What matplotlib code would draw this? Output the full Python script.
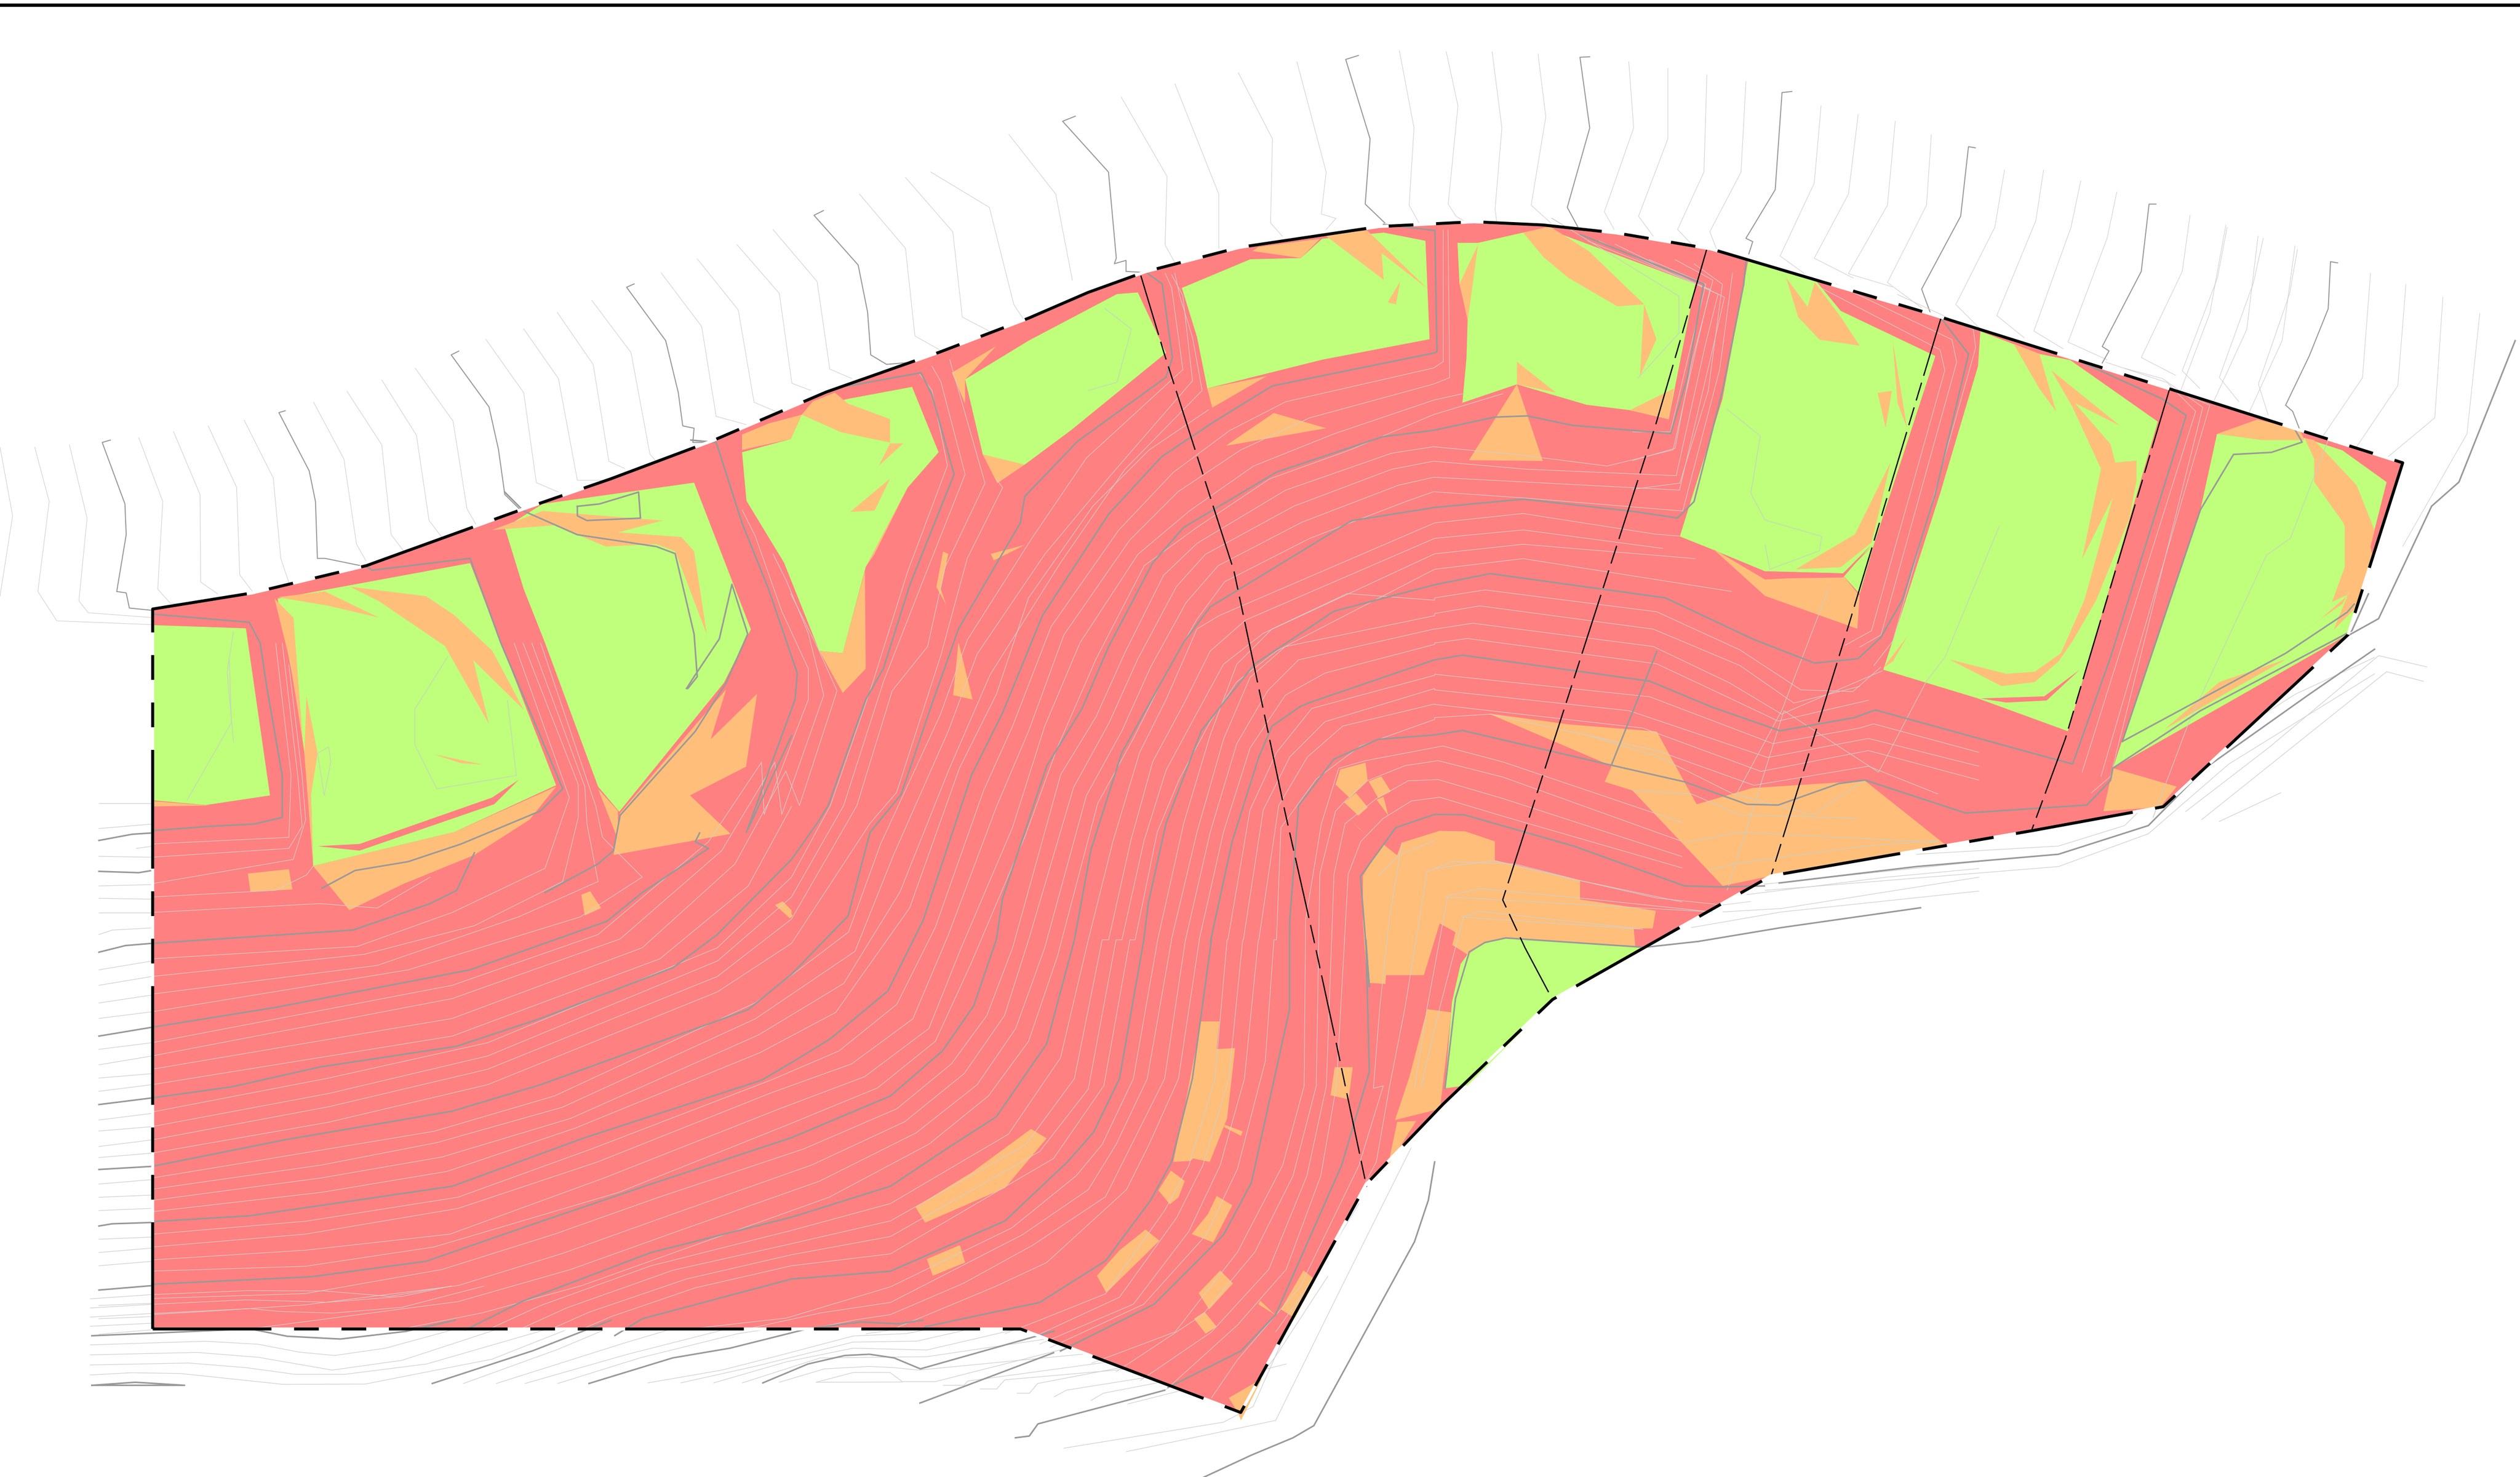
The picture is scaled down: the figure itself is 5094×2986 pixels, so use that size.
import matplotlib
matplotlib.use('Agg')
import matplotlib.pyplot as plt
from matplotlib.patches import Polygon

plt.rcParams['lines.scale_dashes'] = False

# crops of the plan the values were read from: x0, y0, w, h (each read on a 0-1568 grid)
M = (0, 0, 5094, 5094)
C1 = (0, 0, 2000, 1500)
C2 = (2400, 1400, 1000, 800)
C3 = (200, 1300, 1400, 1400)
C4 = (1500, 700, 1400, 1400)
C5 = (1800, 1900, 1100, 1100)
C6 = (3300, 500, 1500, 1300)
C7 = (2200, 350, 1300, 1300)
C8 = (2900, 1100, 1100, 1100)
C9 = (0, 2600, 2600, 386)
C10 = (2000, 80, 3094, 700)


def px(box, pts):
    return [(box[0] + x * box[2] / 1568, box[1] + y * box[3] / 1568) for x, y in pts]


# site outline, starting at the lower left corner
site = px(M, [(95, 827), (635, 827), (772, 879), (850, 737), (898, 687), (966, 622), (1102, 545), (1264, 517),
              (1346, 502), (1461, 395), (1495, 288), (1350, 242), (1200, 195), (1065, 155), (1006, 145), (960, 140),
              (917, 138), (858, 141), (771, 154), (713, 169), (677, 182), (640, 198), (585, 219), (514, 244),
              (444, 274), (380, 298), (322, 318), (228, 352), (157, 369), (95, 379), (95, 827)])

# green zones
green = [
    px(M, [(95, 389), (153, 391), (168, 495), (128, 501), (95, 498)]),
    px(C1, [(440, 1265), (745, 1190)]) + px(C3, [(1035, 322), (805, 428), (485, 505), (480, 350), (445, 110)]),
    px(C1, [(800, 1115), (860, 1065), (1100, 1020), (1190, 1330)]) + px(C3, [(1415, 90), (1178, 382), (1130, 325), (1010, 0)]) + px(C1, [(830, 1245)]),
    px(C4, [(0, 240), (110, 210), (135, 155), (235, 120), (385, 92), (445, 240), (375, 320), (280, 500), (228, 695), (175, 690), (95, 490), (10, 350)]),
    px(C4, [(505, 75), (545, 245), (575, 270), (640, 268), (745, 190), (960, 15)]) + px(M, [(708, 182), (695, 183), (640, 212)]),
    px(C7, [(228, 280), (395, 210), (518, 207), (570, 160), (720, 145), (822, 165), (832, 405), (570, 455), (290, 525), (265, 400)]),
    px(C7, [(900, 170), (950, 170), (1060, 145), (1115, 135), (1480, 270), (1415, 600), (1320, 578), (1215, 565), (1045, 515), (912, 560), (922, 450), (925, 350), (905, 270)]),
    px(C6, [(245, 30), (385, 78), (440, 155), (640, 265), (510, 725), (445, 795), (280, 790), (165, 735), (100, 705), (190, 370), (235, 90)]),
    px(C6, [(445, 800), (510, 725), (480, 845)]),
    px(C6, [(735, 205), (860, 260), (925, 275), (1110, 425), (920, 1180), (730, 1100), (530, 1030), (650, 600), (730, 290)]),
    px(C6, [(1235, 455), (1420, 465), (1500, 495)]) + px(M, [(1485, 300), (1461, 395)]) + px(C6, [(1510, 945), (1015, 1270), (1200, 640)]),
    px(C8, [(100, 1175), (145, 1148), (205, 1135), (600, 1162), (340, 1315), (95, 1560), (30, 1568), (50, 1320), (75, 1210)]),
]

# orange zones
orange = [
    px(M, [(848, 573), (848, 545)]) + px(C2, [(620, 600), (665, 645), (680, 595), (800, 548), (880, 550), (975, 590), (975, 665), (1030, 680), (1245, 745), (1245, 820), (1485, 865), (1475, 935), (1415, 935), (1420, 1005), (1010, 972), (940, 990), (890, 1040), (840, 1000), (850, 950), (800, 915), (750, 1120), (630, 1120), (628, 1155), (570, 1150)]),
    px(M, [(888, 628), (903, 630), (896, 690), (868, 697), (877, 670)]),
    px(C2, [(485, 305), (565, 278), (572, 350), (515, 418), (470, 365)]),
    px(C2, [(575, 352), (615, 332), (645, 392), (605, 418)]),
    px(C2, [(497, 435), (535, 398), (572, 455), (542, 488)]),
    px(C2, [(525, 515), (565, 560), (545, 540)]),
    px(C2, [(600, 425), (622, 413), (637, 487)]),
    px(C8, [(155, 488), (390, 520), (640, 540), (755, 750), (915, 703), (1240, 682), (1470, 865), (1000, 950), (830, 985), (570, 710), (490, 685), (510, 640), (500, 635)]),
    px(C3, [(337, 522), (430, 512), (438, 558), (343, 563)]),
    px(C3, [(1092, 570), (1112, 562), (1137, 600), (1100, 617)]),
    px(C3, [(1532, 595), (1548, 585), (1568, 605), (1568, 622)]),
    px(C3, [(1165, 480), (1180, 385), (1338, 200), (1420, 105), (1385, 218), (1490, 115), (1465, 280), (1338, 345), (1430, 432)]),
    px(C3, [(1130, 330), (1175, 380), (1175, 445)]),
    px(C3, [(485, 505), (805, 428), (1035, 325), (975, 400), (850, 480), (690, 545), (567, 605)]),
    px(C3, [(120, 358), (250, 368), (125, 370)]),
    px(C3, [(470, 120), (495, 250), (480, 345), (485, 505), (465, 250)]),
    px(C3, [(758, 252), (868, 275), (820, 272)]),
    px(C1, [(435, 1265), (465, 1305), (480, 1568), (460, 1400)]),
    px(C1, [(440, 1262), (515, 1250), (600, 1305), (520, 1280)]),
    px(C1, [(555, 1240), (675, 1260), (720, 1300), (780, 1375), (830, 1500), (750, 1395), (775, 1530), (705, 1365), (600, 1270)]),
    px(C1, [(780, 1120), (860, 1080), (1050, 1100), (980, 1125), (1080, 1135), (1100, 1165), (1120, 1340), (1070, 1165), (1040, 1150), (960, 1155), (880, 1110)]),
    px(C4, [(135, 155), (225, 195), (335, 218), (335, 165), (240, 130), (210, 105), (160, 125)]),
    px(C4, [(0, 235), (110, 210), (135, 155), (60, 175), (0, 200)]),
    px(C4, [(310, 270), (365, 220), (335, 220)]),
    px(C4, [(245, 375), (335, 300), (300, 372)]),
    px(C4, [(175, 690), (228, 695), (278, 510), (280, 730), (228, 785)]),
    px(C4, [(280, 500), (375, 320), (300, 470)]),
    px(C4, [(475, 60), (575, 0), (505, 75), (505, 130)]),
    px(C4, [(545, 245), (640, 268), (578, 310)]),
    px(C4, [(455, 465), (467, 470), (450, 550), (462, 585), (440, 545)]),
    px(C4, [(563, 470), (640, 450), (570, 485)]),
    px(C4, [(490, 670), (522, 800), (478, 790)]),
    px(C4, [(75, 1265), (90, 1258), (115, 1290), (108, 1295)]),
    px(C5, [(405, 545), (450, 572), (330, 715), (100, 815), (72, 770), (235, 670)]),
    px(C5, [(105, 920), (200, 880), (215, 930), (122, 968)]),
    px(C5, [(895, 235), (948, 235), (940, 315), (993, 312), (970, 515), (920, 640), (872, 630), (865, 637), (815, 640), (850, 470)]),
    px(C5, [(963, 533), (1015, 552), (1010, 565), (962, 540)]),
    px(C5, [(808, 665), (848, 695), (830, 742), (805, 762), (772, 722)]),
    px(C5, [(940, 738), (985, 765), (930, 872), (868, 848), (915, 790)]),
    px(C5, [(735, 835), (775, 867), (622, 1017), (595, 968), (660, 895)]),
    px(C5, [(950, 953), (987, 990), (918, 1065), (888, 1018)]),
    px(C5, [(905, 1072), (940, 1115), (908, 1135), (875, 1092)]),
    px(C5, [(1065, 1040), (1110, 1082), (1060, 1050)]),
    px(C5, [(1190, 953), (1225, 980), (1165, 1090), (1125, 1065)]),
    px(C5, [(975, 1320), (1070, 1265), (1010, 1385), (1000, 1360)]),
    px(C5, [(1280, 367), (1332, 367), (1320, 460), (1268, 448)]),
    px(C5, [(1460, 525), (1515, 522), (1435, 648), (1440, 620)]),
    px(C7, [(290, 525), (435, 495), (302, 572)]),
    px(C7, [(335, 665), (452, 585), (580, 622)]),
    px(C7, [(415, 180), (565, 160), (518, 207), (400, 190)]),
    px(C7, [(575, 150), (680, 140), (825, 280), (715, 195), (720, 260)]),
    px(C7, [(730, 315), (760, 265), (750, 320)]),
    px(C7, [(905, 270), (950, 175), (925, 360)]),
    px(C7, [(1045, 460), (1140, 535), (1045, 515)]),
    px(C7, [(1320, 578), (1428, 525), (1415, 600)]),
    px(C7, [(1060, 145), (1125, 130), (1220, 190), (1355, 320), (1290, 325), (1170, 255), (1110, 205)]),
    px(C7, [(1355, 320), (1385, 405), (1345, 495)]),
    px(C7, [(1045, 515), (1108, 702), (928, 700)]),
    px(C6, [(170, 735), (280, 850), (475, 930), (480, 850), (445, 800), (280, 810)]),
    px(C6, [(325, 75), (350, 170), (395, 225), (480, 240), (440, 170), (385, 85), (370, 145)]),
    px(C6, [(550, 230), (580, 440), (560, 380)]),
    px(C6, [(518, 355), (548, 350), (535, 440)]),
    px(C6, [(345, 785), (470, 700), (545, 525), (520, 650), (505, 720), (440, 780)]),
    px(C6, [(805, 235), (860, 260), (895, 400), (860, 345)]),
    px(C6, [(885, 300), (1030, 435), (935, 380), (1010, 480), (1020, 525), (1065, 520), (1065, 570), (1050, 660), (980, 860), (930, 960), (900, 1010), (850, 1060), (780, 1070), (670, 1005), (790, 1040), (850, 1035), (905, 990), (955, 860), (1015, 610), (950, 760), (990, 540), (930, 390)]),
    px(C6, [(530, 1025), (580, 950), (550, 1010)]),
    px(C6, [(1235, 455), (1320, 420), (1410, 445), (1420, 470), (1330, 470)]),
    px(C6, [(1420, 465), (1470, 590), (1505, 680), (1505, 780), (1478, 865), (1515, 845), (1455, 905), (1375, 968), (1500, 870), (1555, 750), (1568, 690), (1530, 580), (1465, 500), (1440, 470)]),
    px(M, [(1440, 280), (1470, 318), (1476, 345), (1466, 378), (1452, 392), (1465, 360), (1465, 335), (1440, 300)]),
    px(C6, [(1125, 1175), (1240, 1060), (1380, 1005), (1250, 1090)]),
    px(C6, [(1015, 1270), (1150, 1315), (1115, 1365), (995, 1375)]),
]

# red slivers laid over the green and orange
red_bits = [
    px(C3, [(495, 460), (590, 455), (890, 350), (950, 310), (895, 365), (590, 470)]),
    px(C6, [(280, 790), (445, 795), (505, 725), (445, 805), (280, 808)]),
    px(C6, [(735, 1100), (870, 1095), (945, 1030), (875, 1105), (790, 1110)]),
]

# heavy contours
major = [
    px(C3, [(120, 425), (250, 415), (350, 410), (415, 395), (415, 300), (380, 100), (365, 0)]) + px(C1, [(395, 1315), (243, 1298)]),
    px(C3, [(505, 555), (580, 515), (700, 495), (820, 455), (1000, 380), (1050, 330), (910, 0)]) + px(C1, [(745, 1180), (590, 1205), (578, 1195)]),
    px(C3, [(1010, 565), (1130, 500), (1165, 470), (1180, 390), (1350, 200), (1420, 90), (1460, 0)]) + px(C1, [(1185, 1340), (1160, 1235), (1140, 1350), (1100, 1430), (1088, 1455)]),
    px(C1, [(800, 1040), (830, 1080), (915, 1130), (1040, 1155), (1070, 1170), (1100, 1340), (1105, 1430), (1090, 1455)]),
    px(C1, [(915, 1070), (915, 1090), (930, 1100), (1015, 1095), (1012, 1040), (950, 1065), (915, 1070)]),
    px(C3, [(120, 680), (575, 650), (750, 590), (810, 560), (850, 475)]),
    px(C3, [(120, 870), (400, 825), (840, 740), (1150, 630), (1230, 565), (1380, 465), (1350, 450), (1360, 430)]),
    px(C3, [(1568, 210), (1470, 420)]),
    px(C4, [(10, 1100), (120, 800), (125, 740), (60, 550), (0, 400)]) + px(C1, [(1135, 935), (1095, 930)]),
    px(C3, [(120, 1030), (300, 1005), (500, 960), (810, 913), (1000, 850), (1300, 735), (1400, 660), (1568, 490)]) + px(C4, [(170, 1080), (195, 1040), (280, 800), (320, 730), (380, 540), (480, 290), (430, 110), (405, 60), (240, 90)]),
    px(C3, [(120, 1185), (420, 1125), (800, 1060), (1000, 1000), (1470, 830), (1568, 750)]) + px(C4, [(240, 1290), (290, 1100), (360, 1015), (430, 810), (490, 640), (630, 400), (640, 340), (760, 215), (960, 70)]) + px(C7, [(205, 450), (180, 270), (145, 245)]),
    px(C3, [(120, 1310), (340, 1297), (800, 1230), (1100, 1120), (1500, 990), (1568, 950)]) + px(C4, [(200, 1568), (330, 1460), (410, 1300), (520, 970), (590, 830), (680, 610), (830, 380), (950, 250), (1070, 170), (1200, 90), (1568, 15)]) + px(C7, [(850, 435), (845, 140), (720, 125)]),
    px(C3, [(120, 1452), (480, 1435), (740, 1400), (1000, 1310), (1250, 1225), (1568, 1120)]) + px(C5, [(0, 450), (150, 320), (240, 190), (305, 0)]) + px(C4, [(590, 1250), (690, 950), (770, 820), (830, 680), (930, 490), (1000, 410), (1210, 285), (1450, 205), (1568, 190)]) + px(C7, [(990, 595), (1070, 592), (1180, 615), (1420, 635), (1460, 500), (1500, 270), (1200, 150)]),
    px(C3, [(830, 1555), (960, 1490), (1250, 1380), (1568, 1300)]) + px(C5, [(0, 710), (165, 600), (305, 510), (450, 300), (530, 0)]) + px(C4, [(790, 1140), (860, 920), (1000, 670), (1060, 590), (1380, 395), (1568, 365)]) + px(C7, [(1060, 795), (1330, 825)]) + px(C6, [(95, 660), (130, 620), (190, 350), (235, 90), (240, 30)]),
    px(C3, [(1168, 1568), (1230, 1530), (1568, 1440)]) + px(C5, [(0, 955), (330, 810), (510, 640), (585, 555), (660, 400), (730, 0)]) + px(C4, [(920, 1260), (960, 1080), (1040, 870), (1160, 720), (1340, 600), (1568, 540)]) + px(C8, [(160, 85), (665, 155), (920, 275), (1095, 343), (1220, 330), (1285, 270)]) + px(C6, [(570, 860), (640, 600), (710, 260), (650, 170)]),
    px(C5, [(100, 1115), (430, 1045), (620, 925), (750, 750), (810, 640), (870, 400), (925, 0)]) + px(C4, [(1060, 1350), (1110, 1120), (1170, 930), (1200, 860), (1265, 815), (1290, 805), (1568, 710)]) + px(C8, [(80, 320), (620, 395), (800, 470), (995, 538), (1210, 500), (1270, 478), (1568, 560)]) + px(C6, [(850, 1235), (930, 1260), (1010, 1000), (1170, 410), (1120, 370), (930, 270)]),
    px(C5, [(490, 1185), (760, 1050), (960, 850), (1040, 700), (1150, 200), (1150, 0)]) + px(C4, [(1240, 1300), (1260, 1040), (1340, 935), (1440, 890), (1568, 880)]) + px(C8, [(80, 537), (500, 635), (720, 685), (900, 750), (990, 752), (1165, 690), (1240, 680), (1530, 775)]) + px(C6, [(960, 1360), (1010, 1300), (1015, 1270), (1200, 1130), (1520, 935), (1555, 845)]),
    px(C5, [(800, 1290), (1010, 1185), (1110, 1080), (1300, 650), (1380, 380), (1370, 0)]) + px(C4, [(1420, 1450), (1400, 1200), (1480, 1090), (1568, 1060)]) + px(C8, [(85, 780), (400, 870), (720, 985), (830, 988), (950, 985)]),
    px(C8, [(1400, 1048), (1000, 1105), (760, 1145), (605, 1162), (205, 1135), (145, 1148), (100, 1175), (60, 1310), (30, 1568)]),
    px(C8, [(510, 635), (640, 310)]),
    px(C6, [(1035, 1205), (1200, 640), (1270, 505), (1350, 500), (1415, 475), (1400, 445)]),
    px(C6, [(1035, 1205), (1380, 990), (1510, 890), (1525, 870)]),
    # outside the site
    px(C3, [(0, 447), (75, 433), (120, 430)]), px(C3, [(0, 517), (90, 520), (120, 515)]),
    px(C3, [(0, 700), (60, 685), (120, 680)]), px(C3, [(0, 890), (120, 870)]),
    px(C3, [(0, 1045), (120, 1030)]), px(C3, [(0, 1192), (120, 1185)]),
    px(C3, [(0, 1320), (30, 1315), (120, 1312)]), px(C3, [(0, 1465), (120, 1455)]),
    px(C9, [(112, 408), (305, 352), (350, 412), (415, 435), (495, 372), (555, 280)]),
    px(C9, [(527, 800), (650, 530), (745, 280)]),
    px(C9, [(718, 800), (820, 590), (890, 510), (985, 350), (1050, 295), (1095, 310), (1125, 280)]),
    px(C9, [(930, 795), (985, 640), (1030, 570), (1060, 560), (1090, 590), (1122, 680), (1285, 370)]),
    px(C9, [(112, 815), (165, 790), (225, 815), (112, 815)]),
    px(C5, [(85, 1335), (470, 1190)]), px(C5, [(360, 1435), (400, 1430), (425, 1395), (690, 1325), (790, 1298)]),
    px(C5, [(1568, 640), (1550, 750), (1510, 870), (1220, 1400), (1160, 1435), (1040, 1485), (900, 1550)]),
    px(C6, [(310, 1550), (600, 1510), (900, 1480), (1090, 1410), (1210, 1270), (1430, 1090), (1568, 980)]),
    px(M, [(1462, 395), (1480, 385), (1513, 315), (1530, 300), (1565, 212)]),
]

# thin contours inside the site, read band by band
minor = [
    px(C3, [(120, 455), (430, 440), (435, 300), (400, 0)]),
    px(C3, [(120, 485), (430, 465), (460, 415), (450, 300), (415, 0)]),
    px(C3, [(120, 545), (440, 490), (468, 400), (460, 300), (430, 50)]),
    px(C3, [(120, 575), (400, 560), (470, 525), (485, 505)]),
    px(C3, [(120, 610), (500, 590), (630, 600), (750, 530)]),
    px(C3, [(120, 715), (585, 687), (800, 610), (1010, 510), (1065, 350), (940, 0)]),
    px(C3, [(120, 755), (600, 705), (850, 640), (1050, 540), (1085, 395), (1085, 320), (960, 0)]),
    px(C3, [(120, 795), (630, 730), (950, 620), (1130, 540), (1105, 410), (1100, 325), (980, 0)]),
    px(C3, [(120, 835), (700, 740), (1090, 620), (1230, 530), (1140, 440), (1125, 370), (1000, 0)]),
    px(C3, [(120, 905), (800, 775), (1130, 660), (1380, 450), (1500, 270)]) + px(C4, [(50, 1060), (150, 800), (150, 730), (90, 600), (30, 430), (0, 370)]),
    px(C3, [(120, 935), (800, 805), (1180, 670), (1410, 470), (1530, 270)]) + px(C4, [(90, 1060), (185, 790), (150, 650), (100, 530), (70, 470)]),
    px(C3, [(120, 965), (800, 850), (1230, 690), (1440, 500), (1555, 290)]) + px(C4, [(130, 1040), (215, 780), (170, 680), (110, 560)]),
    px(C3, [(120, 1000), (800, 890), (1270, 715), (1470, 550), (1568, 370)]),
    px(C3, [(120, 1062), (520, 985), (880, 905), (1400, 690), (1568, 530)]) + px(C4, [(200, 1040), (290, 780), (375, 510), (465, 270), (430, 100), (400, 60)]),
    px(C3, [(120, 1095), (520, 1020), (880, 935), (1400, 720), (1568, 575)]) + px(C4, [(230, 1040), (320, 760), (410, 530), (505, 290), (450, 80), (430, 45)]),
    px(C3, [(120, 1125), (520, 1050), (880, 965), (1400, 755), (1568, 625)]) + px(C4, [(260, 1040), (340, 780), (420, 680), (460, 500), (550, 310), (490, 100), (470, 30)]),
    px(C3, [(120, 1155), (520, 1085), (880, 1000), (1400, 790), (1568, 680)]) + px(C4, [(290, 1080), (350, 1010), (450, 700), (510, 480), (590, 320), (575, 300)]),
    px(M, [(95, 733), (180, 719), (270, 704), (345, 682), (470, 624), (528, 580), (548, 525), (585, 445), (602, 398), (642, 335), (676, 285), (736, 230), (729, 179), (725, 170)]),
    px(M, [(95, 740), (200, 725), (272, 711), (350, 689), (470, 634), (532, 592), (556, 532), (590, 455), (608, 407), (650, 345), (690, 297), (742, 237), (736, 184), (729, 171)]),
    px(M, [(95, 747), (200, 733), (275, 720), (355, 696), (472, 644), (525, 612), (560, 555), (590, 480), (616, 420), (660, 350), (700, 292), (748, 243), (742, 210), (734, 184), (731, 170)]),
    px(M, [(95, 754), (200, 742), (278, 729), (358, 702), (473, 655), (520, 630), (566, 565), (597, 478), (620, 432), (640, 372), (680, 315), (715, 280), (752, 255)]),
    px(M, [(95, 768), (190, 760), (285, 745), (368, 715), (480, 672), (522, 654), (558, 625), (582, 577), (612, 492), (630, 452), (654, 390), (696, 330), (730, 294), (765, 268), (800, 250), (892, 229), (898, 225), (898, 143)]),
    px(M, [(95, 776), (190, 768), (285, 752), (372, 723), (480, 680), (530, 662), (568, 634), (590, 582), (620, 502), (640, 455), (662, 395), (703, 336), (733, 306), (772, 280), (815, 260), (892, 239), (902, 235), (901, 143)]),
    px(M, [(95, 784), (190, 778), (280, 768), (376, 733), (485, 690), (538, 670), (578, 640), (598, 590), (630, 515), (650, 452), (672, 400), (708, 345), (740, 318), (780, 290), (830, 270), (892, 249), (910, 245)]),
    px(M, [(95, 791), (190, 788), (270, 776), (385, 742), (490, 700), (546, 677), (582, 648), (604, 600), (638, 520), (658, 465), (682, 410), (712, 352), (745, 328), (790, 298), (840, 280), (892, 258), (935, 245)]),
    px(M, [(95, 808), (190, 805), (275, 790), (345, 768), (410, 745), (500, 715), (558, 690), (592, 662), (614, 632), (630, 590), (660, 482), (682, 446), (700, 406), (724, 358), (745, 338), (800, 305), (866, 282), (892, 278), (945, 283), (1000, 290), (1041, 280), (1057, 210), (1064, 180), (988, 150)]),
    px(M, [(95, 818), (130, 816), (190, 812), (285, 800), (350, 780), (420, 755), (505, 725), (563, 698), (600, 668), (625, 632), (640, 585), (668, 490), (690, 450), (708, 410), (732, 365), (750, 345), (805, 315), (866, 292), (892, 287), (950, 292), (1043, 296), (1061, 215), (1069, 183), (995, 150)]),
    px(M, [(155, 827), (285, 810), (355, 790), (425, 765), (510, 735), (570, 705), (608, 675), (632, 640), (650, 590), (676, 495), (698, 455), (716, 415), (738, 375), (758, 352), (810, 325), (870, 302), (892, 297), (950, 300), (1045, 305), (1065, 220), (1073, 185), (1005, 152)]),
    px(M, [(250, 827), (300, 817), (362, 800), (432, 775), (516, 745), (578, 712), (615, 682), (640, 648), (658, 595), (683, 500), (705, 460), (725, 420), (745, 385), (762, 362), (815, 335), (875, 312), (892, 306), (950, 310), (1047, 318), (1070, 230), (1078, 170)]),
    px(C3, [(880, 1555), (1000, 1500), (1250, 1410), (1568, 1330)]) + px(C5, [(0, 760), (340, 560), (490, 340), (570, 0)]) + px(C4, [(784, 1344), (840, 1120), (900, 920), (960, 800), (1030, 640), (1080, 610), (1568, 400)]) + px(C7, [(1060, 830), (1380, 880), (1440, 885)]),
    px(C3, [(950, 1555), (1060, 1505), (1300, 1420), (1568, 1360)]) + px(C5, [(0, 810), (390, 590), (530, 400), (610, 0)]) + px(C4, [(830, 1344), (880, 1120), (930, 940), (1000, 810), (1060, 690), (1140, 620), (1568, 435)]) + px(C7, [(1060, 870), (1400, 915)]),
    px(C3, [(1020, 1555), (1110, 1515), (1330, 1440), (1568, 1385)]) + px(C5, [(0, 855), (430, 610), (570, 430), (650, 0)]) + px(C4, [(860, 1344), (910, 1120), (960, 960), (1030, 830), (1090, 720), (1180, 650), (1568, 470)]) + px(C7, [(1060, 905), (1480, 940)]),
    px(C3, [(1090, 1555), (1160, 1525), (1350, 1460), (1568, 1410)]) + px(C5, [(0, 905), (470, 630), (615, 420), (690, 0)]) + px(C4, [(890, 1344), (940, 1100), (990, 980), (1060, 850), (1120, 760), (1210, 690), (1568, 505)]) + px(C7, [(1060, 940), (1568, 1020)]),
    px(C5, [(-610, 1125), (-300, 1090), (0, 1000), (350, 830), (535, 680), (610, 590), (700, 400), (770, 0)]) + px(C4, [(941, 1344), (1000, 1080), (1060, 880), (1120, 720), (1200, 640), (1370, 560), (1568, 575)]) + px(C8, [(0, 155), (145, 132), (640, 195), (880, 305), (1055, 420), (1205, 425), (1285, 355)]),
    px(C5, [(-430, 1125), (-200, 1075), (0, 1045), (380, 850), (570, 720), (650, 590), (740, 400), (810, 0)]) + px(C4, [(972, 1344), (1030, 1100), (1090, 890), (1150, 750), (1230, 680), (1568, 610)]) + px(C8, [(0, 200), (130, 178), (630, 245), (880, 350), (1035, 458), (1225, 410)]),
    px(C5, [(-250, 1125), (-100, 1095), (0, 1080), (210, 990), (410, 880), (620, 740), (690, 600), (790, 400), (850, 0)]) + px(C4, [(1004, 1344), (1060, 1100), (1120, 900), (1190, 780), (1260, 710), (1568, 640)]) + px(C8, [(0, 245), (110, 228), (630, 295), (850, 400), (1000, 490), (1290, 365)]),
    px(C5, [(-70, 1135), (0, 1125), (300, 1000), (450, 930), (680, 720), (745, 590), (830, 400), (890, 0)]) + px(C4, [(1035, 1344), (1090, 1100), (1150, 910), (1230, 790), (1320, 740), (1568, 675)]) + px(C8, [(0, 285), (95, 272), (640, 345), (800, 420), (990, 510), (1250, 450)]),
    px(C5, [(330, 1135), (420, 1100), (620, 1020), (790, 780), (860, 650), (935, 400), (970, 0)]) + px(C4, [(1100, 1344), (1150, 1050), (1210, 920), (1290, 820), (1568, 745)]) + px(C8, [(0, 375), (620, 440), (975, 575), (1225, 530), (1265, 518), (1568, 600)]),
    px(C5, [(400, 1150), (660, 1030), (825, 800), (900, 650), (975, 400), (1015, 0)]) + px(C4, [(1135, 1344), (1180, 1050), (1240, 930), (1320, 850), (1568, 775)]) + px(C8, [(0, 420), (560, 480), (960, 615), (1250, 560), (1568, 640)]),
    px(C5, [(430, 1165), (700, 1050), (860, 840), (950, 650), (1020, 400), (1060, 0)]) + px(C4, [(1170, 1344), (1215, 1040), (1280, 930), (1360, 860), (1568, 810)]) + px(C8, [(0, 462), (600, 530), (940, 655), (1250, 595), (1568, 680)]),
    px(C5, [(460, 1175), (730, 1050), (910, 850), (1000, 660), (1080, 350), (1105, 0)]) + px(C4, [(1210, 1344), (1220, 1090), (1300, 980), (1400, 905), (1568, 845)]) + px(C8, [(0, 500), (160, 490), (640, 595), (920, 695), (1250, 640), (1450, 720)]),
    px(C5, [(580, 1220), (820, 1130), (1000, 900), (1130, 650), (1192, 421)]) + px(C2, [(375, 900), (425, 520), (480, 300), (565, 270), (810, 212), (1000, 275), (1568, 515)]),
    px(C5, [(650, 1245), (900, 1080), (1050, 900), (1160, 680), (1227, 421)]) + px(C2, [(420, 720), (470, 470), (500, 430), (570, 350), (690, 290), (795, 270), (1000, 335), (1568, 590)]),
    px(C5, [(720, 1270), (925, 1130), (1090, 950), (1200, 680), (1256, 421)]) + px(C2, [(465, 720), (500, 520), (600, 420), (700, 350), (795, 345), (1000, 420), (1568, 650)]),
    px(C5, [(790, 1300), (1000, 1110), (1140, 950), (1240, 680), (1285, 421)]) + px(C2, [(510, 720), (550, 590), (620, 500), (710, 430), (800, 415), (1000, 490), (1568, 695)]),
    px(C2, [(680, 595), (640, 900), (610, 1250), (590, 1568)]) + px(C5, [(1420, 421), (1350, 650), (1180, 1000), (1000, 1210), (925, 1320)]),
    px(C2, [(1568, 830), (1245, 745), (1040, 680), (840, 670), (760, 710), (690, 1250), (640, 1568)]) + px(C5, [(1400, 640), (1230, 960), (1110, 1130)]),
    px(C8, [(0, 935), (170, 912), (420, 970), (640, 1020), (830, 1040), (910, 1030)]),
    px(C8, [(30, 1015), (130, 993), (420, 1020), (800, 1060)]) + px(C2, [(825, 810), (760, 1250), (720, 1568)]),
    px(C8, [(80, 1075), (130, 1058), (600, 1110)]) + px(C2, [(875, 890), (800, 1250), (740, 1568)]),
    px(C4, [(1568, 1120), (1490, 1150), (1440, 1200)]),
    px(C6, [(0, 450), (80, 450), (115, 280), (155, 90), (35, 30)]),
    px(C6, [(0, 520), (90, 490), (125, 280), (170, 80), (90, 30)]),
    px(C6, [(0, 590), (100, 575), (160, 350), (190, 90), (130, 40)]),
    px(C6, [(450, 970), (505, 935), (660, 300), (650, 250), (400, 100)]),
    px(C6, [(480, 975), (525, 945), (685, 280), (675, 225), (430, 90)]),
    px(C6, [(510, 1020), (550, 960), (725, 245), (720, 200), (560, 115)]),
    px(C6, [(950, 1280), (1190, 400), (1130, 330), (1000, 280)]),
    px(C6, [(970, 1330), (1010, 1290), (1205, 390), (1120, 320), (1040, 295)]),
    px(C6, [(990, 1290), (1220, 385), (1180, 365)]),
    px(C9, [(185, 70), (300, 38), (395, 40), (475, 85), (550, 0)]),
    px(C9, [(185, 150), (300, 113), (400, 133), (490, 85), (550, 0)]),
    px(C9, [(185, 225), (305, 185), (340, 208), (405, 222), (490, 175), (590, 0)]),
]

# faint lines running across the plots and outside the site
faint = [
    px(C3, [(295, 35), (300, 180), (200, 355)]),
    px(C3, [(790, 30), (715, 150), (715, 230), (765, 330), (945, 300), (925, 130)]),
    px(C3, [(495, 250), (520, 235), (525, 270), (510, 345), (495, 250)]),
    px(C1, [(370, 1335), (360, 1420), (370, 1568)]),
    px(C6, [(200, 395), (270, 460), (250, 600), (280, 665), (400, 705), (395, 740), (290, 785), (280, 725)]),
    px(C6, [(775, 680), (660, 1000), (620, 1060), (520, 1280), (320, 1130), (200, 1568)]),
    px(C6, [(1470, 470), (1390, 710), (1340, 750), (1175, 1160), (1100, 1390)]),
    px(C8, [(1135, 130), (1000, 480), (870, 720)]),
    px(C7, [(1130, 110), (1440, 300), (1440, 390), (1340, 500)]),
    px(C7, [(0, 530), (70, 510), (105, 380), (40, 330)]),
    px(C8, [(430, 548), (640, 610), (860, 720), (1090, 780), (1240, 680)]),
    px(C8, [(570, 710), (740, 720), (880, 780), (1220, 790)]),
    px(C8, [(720, 860), (880, 830), (1450, 860)]),
    px(C8, [(790, 940), (870, 920), (1240, 870), (1450, 855)]),
    px(C3, [(120, 363), (0, 363)]), px(C3, [(120, 410), (0, 420)]), px(C3, [(120, 460), (85, 465)]),
    px(C3, [(120, 485), (0, 483)]), px(C3, [(120, 547), (0, 550)]), px(C3, [(120, 580), (0, 578)]),
    px(C3, [(120, 610), (0, 610)]), px(C3, [(120, 645), (30, 650), (0, 660)]), px(C3, [(120, 720), (0, 740)]),
    px(C3, [(120, 755), (0, 775)]), px(C3, [(120, 797), (0, 815)]), px(C3, [(120, 835), (0, 850)]),
    px(C3, [(120, 905), (0, 920)]), px(C3, [(120, 935), (0, 955)]), px(C3, [(120, 975), (0, 985)]),
    px(C3, [(120, 1000), (0, 1015)]), px(C3, [(120, 1065), (0, 1080)]), px(C3, [(120, 1095), (0, 1105)]),
    px(C3, [(120, 1125), (0, 1140)]), px(C3, [(120, 1155), (0, 1165)]), px(C3, [(120, 1215), (0, 1225)]),
    px(C3, [(120, 1250), (0, 1255)]), px(C3, [(120, 1280), (0, 1285)]), px(C3, [(120, 1345), (0, 1350)]),
    px(C3, [(120, 1370), (0, 1380)]), px(C3, [(120, 1400), (0, 1410)]), px(C3, [(120, 1495), (0, 1500)]),
    px(C3, [(120, 1525), (0, 1530)]), px(C3, [(120, 1555), (0, 1565)]),
    px(C9, [(110, 105), (185, 70)]), px(C9, [(110, 180), (185, 150)]), px(C9, [(110, 255), (185, 225)]),
    px(C9, [(110, 330), (245, 285), (410, 312), (480, 280)]),
    px(C9, [(110, 483), (250, 453), (315, 478), (365, 543), (408, 570), (470, 510), (595, 280)]),
    px(C9, [(110, 565), (240, 545), (315, 585), (405, 690), (490, 610), (640, 280)]),
    px(C9, [(110, 648), (230, 632), (300, 670), (360, 725), (420, 725), (520, 640), (705, 280)]),
    px(C9, [(110, 730), (160, 712), (220, 718), (345, 807), (445, 805), (600, 600), (720, 280)]),
    px(C9, [(565, 800), (680, 520), (765, 280)]), px(C9, [(605, 800), (760, 470), (855, 280)]),
    px(C9, [(640, 800), (765, 560), (905, 320), (960, 280)]),
    px(C9, [(680, 800), (780, 590), (900, 390), (1010, 280)]),
    px(C9, [(790, 795), (880, 690), (950, 570), (1040, 410), (1105, 390), (1190, 280)]),
    px(C9, [(830, 795), (920, 660), (1040, 460), (1118, 452), (1230, 280)]),
    px(C9, [(870, 795), (960, 620), (1040, 510), (1130, 525), (1280, 290)]),
    px(C9, [(905, 795), (1000, 590), (1130, 580), (1310, 400)]),
    px(C9, [(995, 790), (1040, 710), (1085, 710), (1100, 785), (1140, 785), (1330, 460)]),
    px(C9, [(950, 790), (1005, 680), (1060, 660), (1090, 670), (1120, 690), (1380, 520)]),
    px(C9, [(995, 790), (1100, 788)]),
    px(C9, [(1150, 815), (1175, 815), (1180, 780), (1420, 560)]),
    px(C9, [(1195, 845), (1215, 845), (1225, 770), (1445, 640)]),
    px(C9, [(1240, 880), (1255, 880), (1265, 800), (1420, 600)]),
    px(C9, [(1285, 910), (1300, 855), (1500, 640)]),
    px(C9, [(1330, 940), (1345, 880), (1545, 620)]),
    px(C9, [(1375, 968), (1568, 640)]),
    px(C5, [(1500, 600), (1300, 1000), (1110, 1385), (680, 1475)]),
    px(C5, [(1350, 760), (1180, 1040), (1045, 1345), (960, 1390), (500, 1465)]),
    px(C5, [(1260, 970), (1110, 1200), (1020, 1320)]),
    px(C8, [(740, 1105), (1000, 1060), (1568, 1000)]),
    px(C8, [(830, 1060), (1000, 1050), (1568, 960)]),
    px(C8, [(900, 1010), (1300, 960), (1568, 935)]),
    px(C8, [(950, 980), (1568, 915)]),
    px(C6, [(600, 1480), (900, 1460), (1040, 1410), (1170, 1260), (1400, 1090), (1568, 1000)]),
    px(C6, [(280, 1568), (900, 1510), (1090, 1430), (1260, 1260), (1568, 1040)]),
    px(C6, [(1240, 1400), (1370, 1330)]),
    px(M, [(1360, 505), (1412, 465), (1480, 408), (1510, 415)]),
    px(M, [(1370, 510), (1420, 470), (1485, 418), (1508, 424)]),
]

# fringe of short contours above the top edge of the site
fringe = [
    px(C1, [(0, 945), (20, 1090), (0, 1260)]),
    px(C1, [(55, 945), (78, 1060), (60, 1250), (90, 1312), (240, 1320)]),
    px(C1, [(110, 940), (138, 1095), (125, 1270), (140, 1295), (240, 1305)]),
    px(C1, [(220, 925), (258, 1060), (250, 1245), (270, 1275), (340, 1278)]),
    px(C1, [(275, 912), (317, 1045), (318, 1230), (345, 1255)]),
    px(C1, [(330, 900), (375, 1030), (380, 1215), (400, 1250)]),
    px(C1, [(387, 888), (433, 1010), (445, 1180), (460, 1240)]),
    px(C1, [(497, 850), (545, 970), (565, 1150), (580, 1185)]),
    px(C1, [(550, 827), (605, 940), (620, 1130), (640, 1165)]),
    px(C1, [(605, 803), (660, 920), (680, 1100), (700, 1135)]),
    px(C1, [(658, 778), (718, 890), (740, 1075), (755, 1110)]),
    px(C1, [(770, 717), (830, 830), (850, 1020), (885, 1040)]),
    px(C1, [(830, 695), (885, 800), (915, 1015), (960, 1015)]),
    px(C1, [(883, 660), (940, 770), (965, 975), (990, 990)]),
    px(C1, [(938, 635), (1000, 745), (1030, 960), (1040, 975)]),
    px(C1, [(1048, 577), (1112, 690), (1135, 880), (1190, 900)]),
    px(C1, [(1105, 547), (1170, 655), (1195, 850), (1230, 870)]),
    px(C1, [(1168, 517), (1235, 620), (1255, 810), (1285, 825)]),
    px(C1, [(1225, 485), (1295, 595), (1315, 780), (1350, 800)]),
    px(C1, [(1362, 410), (1435, 525), (1450, 710), (1490, 740)]),
    px(C1, [(1435, 375), (1510, 490), (1525, 670), (1568, 700)]),
    px(C10, [(-60, 600), (0, 760), (25, 1200), (40, 1300)]),
    px(C10, [(20, 430), (68, 700), (85, 1090)]),
    px(C10, [(135, 260), (182, 620), (180, 930), (190, 1010)]),
    px(C10, [(190, 200), (235, 700), (235, 870), (235, 945)]),
    px(C10, [(255, 150), (290, 450), (288, 830), (300, 890)]),
    px(C10, [(315, 100), (345, 600), (340, 790), (355, 810), (345, 860)]),
    px(C10, [(420, 50), (435, 400), (430, 750), (440, 830)]),
    px(C10, [(468, 55), (480, 300), (470, 745), (478, 800), (490, 832)]),
    px(C10, [(515, 55), (525, 400), (518, 770), (520, 830)]),
    px(C10, [(562, 65), (570, 350), (555, 750), (575, 830)]),
    px(C10, [(655, 100), (660, 400), (630, 780), (640, 860)]),
    px(C10, [(695, 130), (695, 450), (665, 800), (680, 890)]),
    px(C10, [(735, 160), (732, 600), (705, 860), (720, 930)]),
    px(C10, [(775, 190), (770, 600), (738, 870), (745, 950)]),
    px(C10, [(852, 300), (845, 650), (810, 980), (835, 1060)]),
    px(C10, [(890, 340), (880, 700), (845, 990), (885, 1080)]),
    px(C10, [(928, 370), (920, 750), (880, 1060), (925, 1120)]),
    px(C10, [(965, 430), (960, 750), (920, 1100), (955, 1215)]),
    px(C10, [(1040, 590), (1030, 850), (990, 1200), (1015, 1310)]),
    px(C10, [(1080, 590), (1072, 820), (1032, 1250), (1060, 1350)]),
    px(C10, [(1118, 640), (1108, 850), (1070, 1320), (1100, 1400)]),
    px(C10, [(1155, 690), (1145, 900), (1105, 1370), (1145, 1450)]),
    px(C10, [(1230, 795), (1222, 1050), (1180, 1440), (1215, 1520)]),
    px(C10, [(1268, 850), (1258, 1080), (1222, 1500), (1240, 1580)]),
    px(C10, [(1305, 900), (1295, 1100), (1260, 1530), (1280, 1640)]),
    px(C10, [(1340, 950), (1332, 1150), (1300, 1560), (1310, 1700)]),
    px(M, [(1405, 147), (1398, 205), (1375, 255)]),
    px(M, [(1385, 140), (1375, 195), (1355, 248)]),
    px(M, [(1428, 153), (1420, 212), (1397, 262)]),
    px(M, [(1475, 170), (1470, 235), (1445, 272)]),
    px(M, [(1497, 177), (1492, 240), (1465, 280)]),
    px(M, [(1520, 185), (1515, 260), (1485, 285)]),
    px(M, [(1543, 195), (1535, 270), (1495, 340)]),
]

fringe_dark = [
    px(C1, [(175, 930), (162, 935), (198, 1065), (200, 1130), (185, 1250), (200, 1253), (205, 1285), (242, 1290)]),
    px(C1, [(452, 868), (442, 872), (490, 995), (500, 1060), (503, 1180), (515, 1180), (570, 1195)]),
    px(C1, [(727, 742), (715, 750), (775, 860), (790, 950), (800, 1045), (825, 1078)]),
    px(C1, [(1005, 600), (993, 607), (1055, 720), (1075, 830), (1082, 900), (1100, 905), (1098, 935), (1130, 935)]),
    px(C1, [(1305, 445), (1290, 455), (1360, 560), (1375, 660), (1380, 750), (1405, 770), (1450, 765)]),
    px(C10, [(88, 347), (75, 370), (122, 600), (130, 990), (128, 1015), (140, 1000), (140, 1050), (160, 1055)]),
    px(C10, [(378, 72), (365, 90), (390, 450), (385, 745), (405, 830)]),
    px(C10, [(615, 78), (605, 80), (615, 400), (592, 760), (603, 850)]),
    px(C10, [(822, 235), (812, 240), (805, 680), (775, 900), (782, 915), (778, 970)]),
    px(C10, [(1010, 490), (1003, 485), (995, 800), (955, 1130), (960, 1190), (965, 1250)]),
    px(C10, [(1195, 745), (1188, 745), (1180, 1050), (1140, 1390), (1147, 1410), (1140, 1465)]),
    px(C6, [(1490, 38), (1475, 35), (1470, 150), (1430, 265), (1380, 385), (1395, 400), (1410, 445)]),
]

# plot dividers
dividers = [
    px(C7, [(128, 250), (185, 440), (355, 970), (480, 1560)]) + px(C5, [(1220, 0), (1285, 300), (1372, 712)]),
    px(M, [(1062, 155), (1030, 265), (935, 560), (949, 590), (966, 622)]),
    px(M, [(1208, 197), (1150, 390), (1102, 545)]),
    px(M, [(1350, 242), (1285, 460), (1264, 517)]),
]

top_rule_y = 10

W, H = 5094, 2986
fig = plt.figure(figsize=(W / 300, H / 300), dpi=300)
ax = fig.add_axes([0, 0, 1, 1])
ax.set_xlim(0, W)
ax.set_ylim(H, 0)
ax.axis('off')

for line in faint:
    x, y = zip(*line)
    ax.plot(x, y, color='#cfcfcf', lw=0.3, zorder=1)
for line in fringe:
    x, y = zip(*line)
    ax.plot(x, y, color='#cccccc', lw=0.25, zorder=1)
for line in fringe_dark:
    x, y = zip(*line)
    ax.plot(x, y, color='#999999', lw=0.5, zorder=1)

ax.add_patch(Polygon(site, closed=True, fc='#ff8080', ec='none', zorder=2))
for poly in green:
    ax.add_patch(Polygon(poly, closed=True, fc='#bfff7b', ec='none', zorder=3))
for poly in orange:
    ax.add_patch(Polygon(poly, closed=True, fc='#ffbf7b', ec='none', zorder=4))
for poly in red_bits:
    ax.add_patch(Polygon(poly, closed=True, fc='#ff8080', ec='none', zorder=5))

for line in faint[:14]:
    x, y = zip(*line)
    ax.plot(x, y, color='#c8d0c8', lw=0.3, zorder=6)
for line in minor:
    x, y = zip(*line)
    ax.plot(x, y, color='#d0d0d0', lw=0.28, zorder=6)
for line in major:
    x, y = zip(*line)
    ax.plot(x, y, color='#999999', lw=0.75, zorder=7, solid_joinstyle='round')

for line in dividers:
    x, y = zip(*line)
    ax.plot(x, y, color='black', lw=0.6, zorder=8, linestyle=(0, (30, 3.5, 9, 3.5, 9, 3.5)))

x, y = zip(*site)
ax.plot(x, y, color='white', lw=1.45, zorder=9)
ax.plot(x, y, color='black', lw=1.45, zorder=10, linestyle=(0, (57.6, 11, 12, 11, 12, 11)))
ax.plot([0, W], [top_rule_y, top_rule_y], color='black', lw=1.6, zorder=10)

fig.savefig('out.png', dpi=300, facecolor='white')
